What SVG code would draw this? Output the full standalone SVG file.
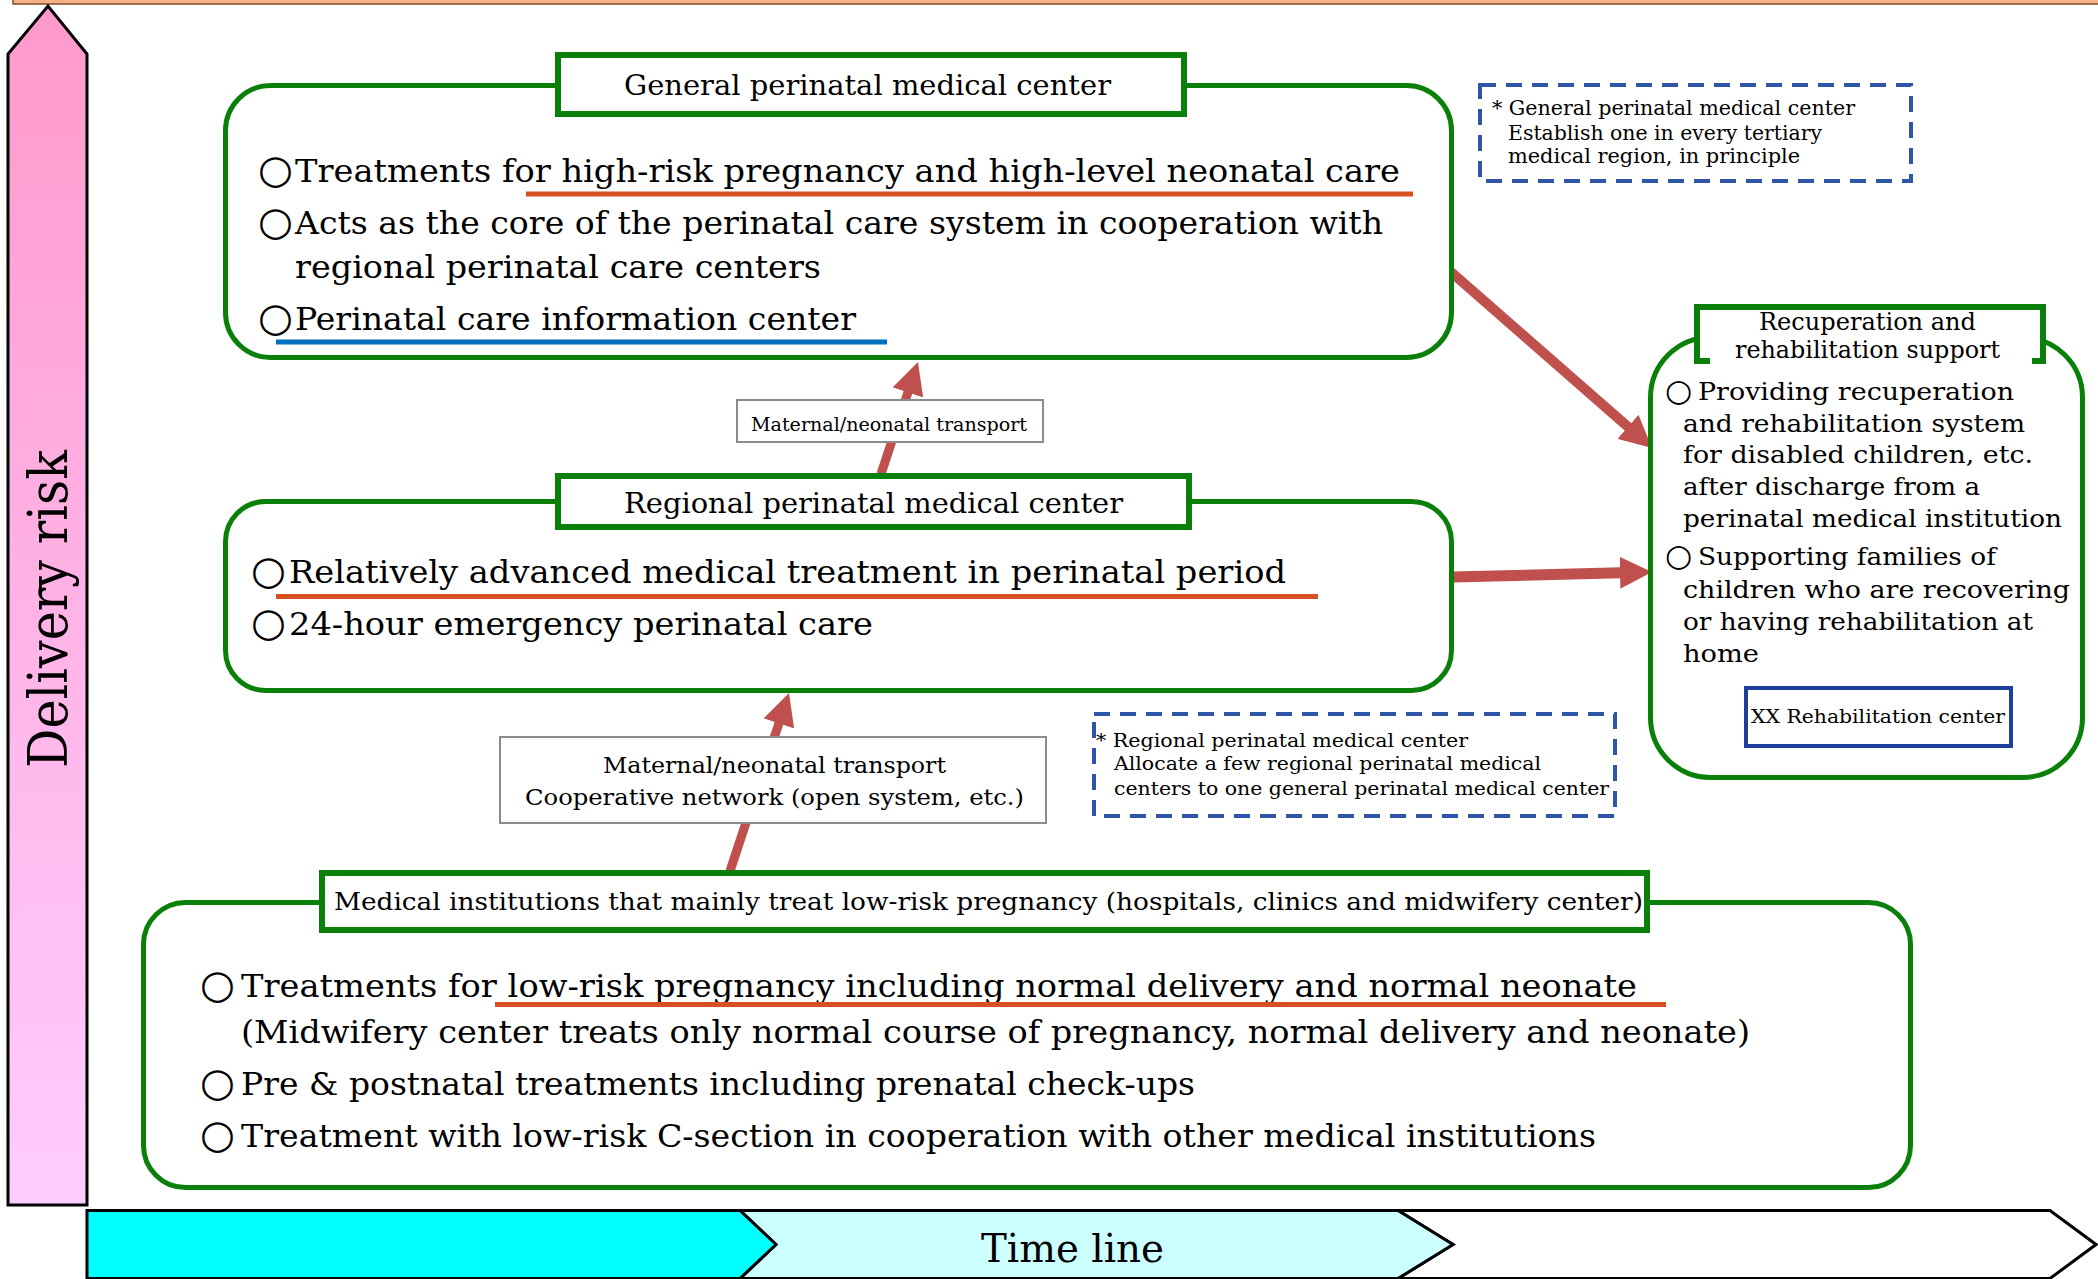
<svg xmlns="http://www.w3.org/2000/svg" width="2098" height="1279" viewBox="0 0 2098 1279">
<defs>
<linearGradient id="pink" x1="0" y1="0" x2="0" y2="1">
<stop offset="0" stop-color="#ff99cc"/>
<stop offset="1" stop-color="#ffccff"/>
</linearGradient>
<marker id="ah" viewBox="0 0 32 32" refX="20" refY="16" markerWidth="32" markerHeight="32" markerUnits="userSpaceOnUse" orient="auto">
<path d="M0,0 L32,16 L0,32 Z" fill="#c0504d"/>
</marker>
<style>
.box{fill:#fff;stroke:#0a800a;stroke-width:5}
.ttl{fill:#fff;stroke:#0a800a;stroke-width:6}
.lbl{fill:#fff;stroke:#8c8c8c;stroke-width:2}
.note{fill:none;stroke:#2f55a6;stroke-width:4;stroke-dasharray:16 10}
.t{font-family:"DejaVu Serif","Liberation Serif",serif;fill:#000}
.s32{font-size:32px}
.s28{font-size:28px}
.s25{font-size:25px}
.s24{font-size:24px}
.s22{font-size:22px}
.s20{font-size:20px}
.s19{font-size:19px}
.s18{font-size:18px}
.c40{font-size:40px}
.c31{font-size:31px}
.conn{fill:none;stroke:#c0504d;marker-end:url(#ah)}
.red{fill:#d7501f}
.blue{fill:#0070c0}
</style>
</defs>

<rect width="2098" height="1279" fill="#fff"/>

<g id="axes">
<rect x="13" y="-3" width="2090" height="7" fill="#f4b183" stroke="#7f4f2a" stroke-width="1.5"/>
<polygon points="8,1205 8,54 48,6 87,54 87,1205" fill="url(#pink)" stroke="#000" stroke-width="3"/>
<text class="t" font-size="54" transform="translate(67,768) rotate(-90)" x="0" y="0" textLength="318" lengthAdjust="spacingAndGlyphs">Delivery risk</text>
<polygon points="1398,1210.5 2050,1210.5 2096,1244.5 2050,1278.5 1398,1278.5 1453,1244.5" fill="#fff" stroke="#000" stroke-width="3"/>
<polygon points="740,1210.5 1398,1210.5 1453,1244.5 1398,1278.5 740,1278.5 776,1244.5" fill="#ccffff" stroke="#000" stroke-width="3"/>
<polygon points="87,1210.5 740,1210.5 776,1244.5 740,1278.5 87,1278.5" fill="#00ffff" stroke="#000" stroke-width="3"/>
<text class="t" font-size="40" x="981" y="1262" textLength="183" lengthAdjust="spacingAndGlyphs">Time line</text>
</g>

<g id="connectors">
<path class="conn" stroke-width="10" d="M1451,272 L1643,440"/>
<path class="conn" stroke-width="11" d="M1453,577 L1640,572.3"/>
<path class="conn" stroke-width="9" d="M881,474 L914.2,373.4"/>
<path class="conn" stroke-width="9" d="M730,871 L785.2,704.4"/>
</g>

<g id="general">
<rect class="box" x="225.5" y="85.5" width="1226" height="272" rx="45"/>
<rect class="ttl" x="558" y="55" width="626" height="59"/>
<text class="t s28" x="624" y="95" textLength="487" lengthAdjust="spacingAndGlyphs">General perinatal medical center</text>
<text class="t c40" x="258" y="183">○</text>
<text class="t s32" x="295" y="182" textLength="1105" lengthAdjust="spacingAndGlyphs">Treatments for high-risk pregnancy and high-level neonatal care</text>
<rect class="red" x="526" y="191.5" width="887" height="5"/>
<text class="t c40" x="258" y="235">○</text>
<text class="t s32" x="295" y="234" textLength="1088" lengthAdjust="spacingAndGlyphs">Acts as the core of the perinatal care system in cooperation with</text>
<text class="t s32" x="295" y="278" textLength="526" lengthAdjust="spacingAndGlyphs">regional perinatal care centers</text>
<text class="t c40" x="258" y="331">○</text>
<text class="t s32" x="295" y="330" textLength="561" lengthAdjust="spacingAndGlyphs">Perinatal care information center</text>
<rect class="blue" x="276" y="339.5" width="611" height="5"/>
</g>

<g id="note-general">
<rect class="note" x="1480" y="85" width="431" height="96"/>
<text class="t s20" x="1492" y="115" textLength="363" lengthAdjust="spacingAndGlyphs">* General perinatal medical center</text>
<text class="t s20" x="1508" y="140" textLength="314" lengthAdjust="spacingAndGlyphs">Establish one in every tertiary</text>
<text class="t s20" x="1508" y="163" textLength="292" lengthAdjust="spacingAndGlyphs">medical region, in principle</text>
</g>

<g id="transport-1">
<rect class="lbl" x="737" y="400" width="306" height="42"/>
<text class="t s18" x="751" y="431" textLength="276" lengthAdjust="spacingAndGlyphs">Maternal/neonatal transport</text>
</g>

<g id="regional">
<rect class="box" x="225.5" y="501.5" width="1226" height="189" rx="40"/>
<rect class="ttl" x="558" y="476" width="631" height="51"/>
<text class="t s28" x="624" y="513" textLength="499" lengthAdjust="spacingAndGlyphs">Regional perinatal medical center</text>
<text class="t c40" x="251" y="584">○</text>
<text class="t s32" x="289" y="583" textLength="997" lengthAdjust="spacingAndGlyphs">Relatively advanced medical treatment in perinatal period</text>
<rect class="red" x="276" y="594" width="1042" height="5"/>
<text class="t c40" x="251" y="636">○</text>
<text class="t s32" x="289" y="635" textLength="584" lengthAdjust="spacingAndGlyphs">24-hour emergency perinatal care</text>
</g>

<g id="transport-2">
<rect class="lbl" x="500" y="737" width="546" height="86"/>
<text class="t s22" x="603" y="773" textLength="343" lengthAdjust="spacingAndGlyphs">Maternal/neonatal transport</text>
<text class="t s22" x="525" y="805" textLength="499" lengthAdjust="spacingAndGlyphs">Cooperative network (open system, etc.)</text>
</g>

<g id="note-regional">
<rect class="note" x="1094" y="714" width="521" height="102"/>
<text class="t s19" x="1096" y="747" textLength="372" lengthAdjust="spacingAndGlyphs">* Regional perinatal medical center</text>
<text class="t s19" x="1114" y="770" textLength="427" lengthAdjust="spacingAndGlyphs">Allocate a few regional perinatal medical</text>
<text class="t s19" x="1114" y="795" textLength="495" lengthAdjust="spacingAndGlyphs">centers to one general perinatal medical center</text>
</g>

<g id="recuperation">
<rect class="box" x="1650.5" y="337.5" width="432" height="440" rx="60"/>
<rect class="ttl" x="1697" y="307" width="346" height="54"/>
<rect x="1710" y="355" width="322" height="10" fill="#fff"/>
<text class="t s24" x="1759" y="330" textLength="217" lengthAdjust="spacingAndGlyphs">Recuperation and</text>
<text class="t s24" x="1735" y="358" textLength="265" lengthAdjust="spacingAndGlyphs">rehabilitation support</text>
<text class="t c31" x="1665" y="401">○</text>
<text class="t s25" x="1698" y="400" textLength="316" lengthAdjust="spacingAndGlyphs">Providing recuperation</text>
<text class="t s25" x="1683" y="432" textLength="342" lengthAdjust="spacingAndGlyphs">and rehabilitation system</text>
<text class="t s25" x="1683" y="463" textLength="350" lengthAdjust="spacingAndGlyphs">for disabled children, etc.</text>
<text class="t s25" x="1683" y="495" textLength="297" lengthAdjust="spacingAndGlyphs">after discharge from a</text>
<text class="t s25" x="1683" y="527" textLength="379" lengthAdjust="spacingAndGlyphs">perinatal medical institution</text>
<text class="t c31" x="1665" y="566">○</text>
<text class="t s25" x="1698" y="565" textLength="298" lengthAdjust="spacingAndGlyphs">Supporting families of</text>
<text class="t s25" x="1683" y="598" textLength="387" lengthAdjust="spacingAndGlyphs">children who are recovering</text>
<text class="t s25" x="1683" y="630" textLength="350" lengthAdjust="spacingAndGlyphs">or having rehabilitation at</text>
<text class="t s25" x="1683" y="662" textLength="76" lengthAdjust="spacingAndGlyphs">home</text>
</g>

<g id="rehab-center">
<rect x="1746" y="688" width="265" height="58" fill="#fff" stroke="#1f3f9f" stroke-width="4"/>
<text class="t s19" x="1751" y="723" textLength="254" lengthAdjust="spacingAndGlyphs">XX Rehabilitation center</text>
</g>

<g id="low-risk">
<rect class="box" x="143.5" y="902.5" width="1767" height="285" rx="42"/>
<rect class="ttl" x="322" y="873" width="1325" height="57"/>
<text class="t s24" x="334" y="910" textLength="1309" lengthAdjust="spacingAndGlyphs">Medical institutions that mainly treat low-risk pregnancy (hospitals, clinics and midwifery center)</text>
<text class="t c40" x="200" y="998">○</text>
<text class="t s32" x="241" y="997" textLength="1396" lengthAdjust="spacingAndGlyphs">Treatments for low-risk pregnancy including normal delivery and normal neonate</text>
<rect x="230" y="1005" width="1530" height="11" fill="#fff"/>
<rect class="red" x="495" y="1002" width="1171" height="5"/>
<text class="t s32" x="241" y="1043" textLength="1509" lengthAdjust="spacingAndGlyphs">(Midwifery center treats only normal course of pregnancy, normal delivery and neonate)</text>
<text class="t c40" x="200" y="1096">○</text>
<text class="t s32" x="241" y="1095" textLength="954" lengthAdjust="spacingAndGlyphs">Pre &amp; postnatal treatments including prenatal check-ups</text>
<text class="t c40" x="200" y="1148">○</text>
<text class="t s32" x="241" y="1147" textLength="1355" lengthAdjust="spacingAndGlyphs">Treatment with low-risk C-section in cooperation with other medical institutions</text>
</g>
</svg>
